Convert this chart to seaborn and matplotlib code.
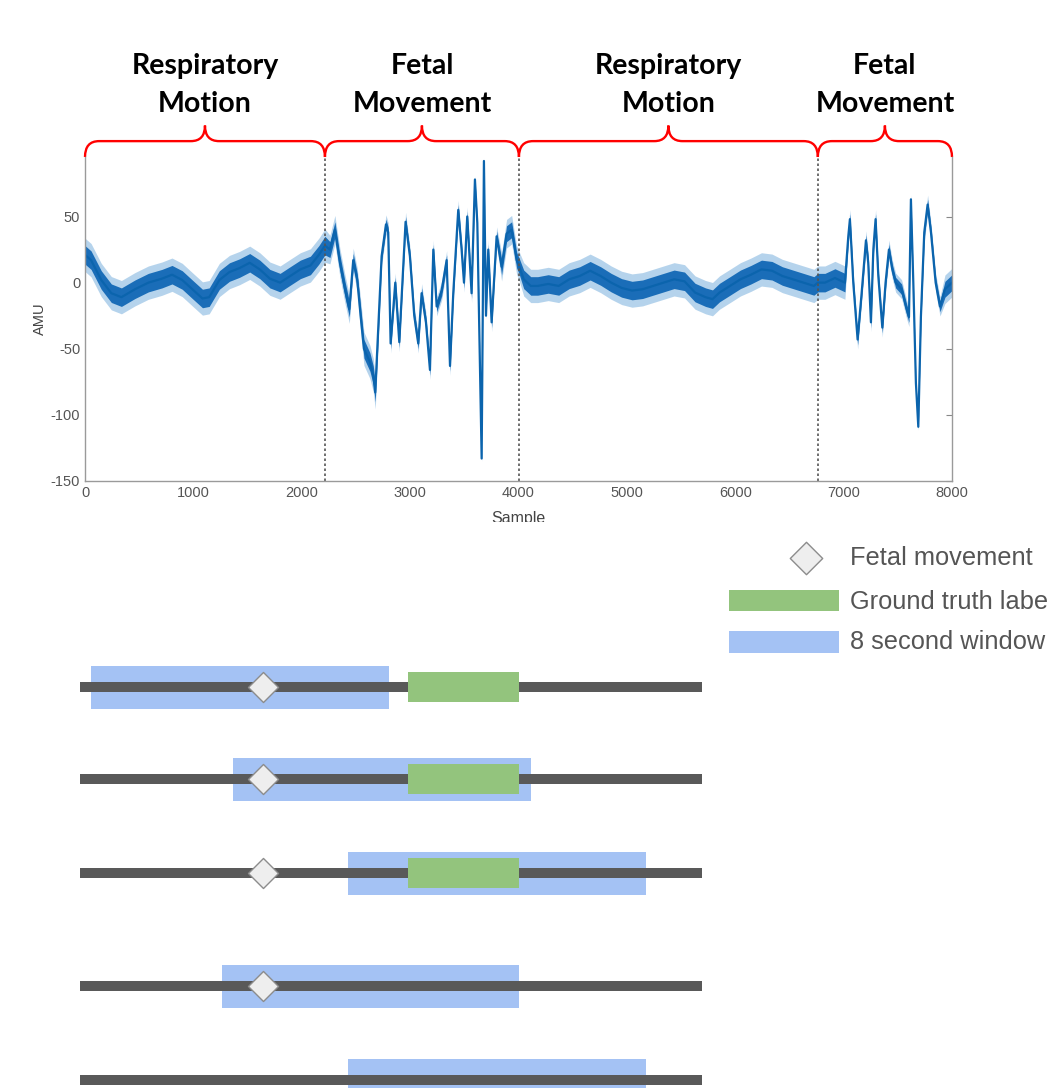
import matplotlib
matplotlib.use('Agg')
import matplotlib.pyplot as plt
import seaborn as sns
from matplotlib.path import Path
from matplotlib.patches import PathPatch, Rectangle
from matplotlib.transforms import blended_transform_factory

# ---- top panel: magnetometer trace ----
sample = [
    0, 56, 150, 243, 336, 461, 585, 710, 803, 897, 990, 1084, 1146, 1240, 1333,
    1426, 1520, 1613, 1706, 1800, 1893, 1987, 2080, 2158, 2214,
    2260, 2306, 2352, 2399, 2439, 2475, 2512, 2543, 2574, 2629,
    2660, 2678, 2697, 2737, 2777, 2798, 2820, 2863, 2900, 2958,
    2998, 3038, 3075, 3106, 3146, 3183, 3214, 3245, 3291, 3337,
    3368, 3398, 3444, 3475, 3497, 3527, 3567, 3598, 3620, 3660,
    3681, 3700, 3721, 3752, 3798, 3844, 3890, 3937, 3983, 4004,
    4048, 4113, 4177, 4274, 4371, 4468, 4565, 4661, 4758, 4855,
    4952, 5048, 5145, 5242, 5339, 5436, 5532, 5629, 5726, 5790,
    5855, 5952, 6048, 6145, 6242, 6339, 6435, 6532, 6629, 6726,
    6762, 6828, 6920, 7012, 7043, 7058, 7089, 7129, 7166, 7206,
    7227, 7252, 7274, 7295, 7320, 7357, 7387, 7418, 7449, 7480,
    7535, 7581, 7603, 7621, 7643, 7667, 7689, 7713, 7744, 7775,
    7806, 7849, 7889, 7935, 8000,
]
amu = [
    21, 17, 2, -8, -11, -5, 0, 3, 6, 2, -5, -12, -11, 2, 8,
    11, 15, 10, 3, 0, 5, 10, 13, 21, 28,
    25, 40, 15, -5, -20, 17, 2, -25, -50, -60,
    -70, -83, -50, 20, 44, 38, -46, 0, -45, 46,
    20, -25, -46, -8, -30, -66, 25, -18, -6, 17,
    -63, -8, 55, 25, 0, 50, -8, 78, 45, -133,
    92, -25, 25, -30, 35, 12, 37, 40, 17, 13,
    2.5, -2.5, -2.5, -1, -2.5, 2.5, 5, 9, 5, 0,
    -4, -6, -5, -2.5, 0, 2.5, 1, -7.5, -11, -12.5,
    -7.5, -2.5, 2.5, 6, 10, 9, 5, 2.5, 0, -2.5,
    0, 0, 3.5, 0, 35, 48, 0, -43, -8, 32,
    15, -30, 25, 48, 5, -34, 0, 25, 10, 0,
    -5, -20, -26, 63, 0, -76, -109, -26, 38, 59,
    38, 0, -18, -5, 0,
]
# half thickness of the noisy band around the trace
spread = ([7] * 25
          + [6] * 5 + [5] * 2 + [7] * 6 + [4] * 24 + [1.5] * 5 + [4] * 3 + [6] * 5
          + [7] * 30
          + [7] * 4 + [4] * 19 + [2] + [1.5] * 3 + [4] * 6 + [6] * 2)

segment_edges = [0, 2214, 4004, 6762, 8000]
segment_labels = ['Respiratory\nMotion', 'Fetal\nMovement',
                  'Respiratory\nMotion', 'Fetal\nMovement']

# ---- bottom panel: windowing sketch (seconds) ----
track_length = 16.7
window_length = 8
window_start = [0.3, 4.1, 7.2, 3.8, 7.2]
truth_start = 8.8
truth_length = 3.0
truth_rows = [0, 1, 2]
movement_time = 4.9
movement_rows = [0, 1, 2, 3]
legend_labels = ['Fetal movement', 'Ground truth label', '8 second window']

BLUE_WIN = '#a4c2f4'
GREEN = '#93c47d'
TRACK = '#595959'

W, H = 1048, 1088


def box(left, top, right, bottom):
    # figure pixel box -> add_axes rect
    return [left / W, 1 - bottom / H, (right - left) / W, (bottom - top) / H]


sns.set_style('white')
plt.rcParams['font.family'] = ['Liberation Sans', 'DejaVu Sans']
plt.rcParams['axes.unicode_minus'] = False

fig = plt.figure(figsize=(W / 100, H / 100), dpi=100)

# ---------------- signal ----------------
ax = fig.add_axes(box(85, 157, 952, 481))
lo = [a - s for a, s in zip(amu, spread)]
hi = [a + s for a, s in zip(amu, spread)]
lo2 = [a - 1.8 * s for a, s in zip(amu, spread)]
hi2 = [a + 1.8 * s for a, s in zip(amu, spread)]
ax.fill_between(sample, lo2, hi2, color='#5c9fd6', alpha=0.45, lw=0)
ax.fill_between(sample, lo, hi, color='#1a6db8', lw=0)
sns.lineplot(x=sample, y=amu, ax=ax, color='#0b64ad', lw=1.6, estimator=None)

for b in segment_edges[1:-1]:
    ax.axvline(b, color='#555555', ls=(0, (1.5, 1.5)), lw=1.2)

ax.set_xlim(0, 8000)
ax.set_ylim(-150, 95)
ax.set_xticks(range(0, 8001, 1000))
ax.set_yticks([-150, -100, -50, 0, 50])
ax.tick_params(direction='in', length=4, width=0.8, color='#888888',
               labelcolor='#555555', labelsize=10.5, right=True)
for side in ['left', 'bottom', 'right']:
    ax.spines[side].set_color('#9a9a9a')
    ax.spines[side].set_linewidth(1.0)
ax.spines['top'].set_visible(False)
ax.set_xlabel('Sample', fontsize=11.5, color='#444444', labelpad=8)
ax.set_ylabel('AMU', fontsize=10.5, color='#444444', labelpad=3)

# braces + section labels above the trace
btrans = blended_transform_factory(ax.transData, ax.transAxes)
ftrans = blended_transform_factory(ax.transData, fig.transFigure)
for (x0, x1), label in zip(zip(segment_edges[:-1], segment_edges[1:]), segment_labels):
    xm = (x0 + x1) / 2
    r = 130
    y0, y1, y2 = 1.0, 1.049, 1.097
    verts = [(x0, y0), (x0, y1), (x0 + r, y1), (xm - r, y1), (xm, y1), (xm, y2),
             (xm, y1), (xm + r, y1), (x1 - r, y1), (x1, y1), (x1, y0)]
    codes = [Path.MOVETO, Path.CURVE3, Path.CURVE3, Path.LINETO, Path.CURVE3,
             Path.CURVE3, Path.CURVE3, Path.CURVE3, Path.LINETO, Path.CURVE3, Path.CURVE3]
    ax.add_patch(PathPatch(Path(verts, codes), fill=False, edgecolor='#ff0000',
                           lw=1.7, transform=btrans, clip_on=False))
    for line, base in zip(label.split('\n'), [74, 112]):
        ax.text(xm, 1 - base / H, line, transform=ftrans, ha='center', va='baseline',
                fontsize=20.5, fontweight='bold', family=['Lato', 'DejaVu Sans'],
                color='black')

# ---------------- windows sketch ----------------
row_y = [687, 779, 873, 986, 1080]
axb = fig.add_axes(box(80.3, 522, 701.7, 1088))
axb.set_facecolor('white')
axb.set_xlim(0, track_length)
axb.set_ylim(H, 522)
axb.barh(row_y, window_length, left=window_start, height=43, color=BLUE_WIN,
         edgecolor='none', lw=0, zorder=1)
axb.hlines(row_y, 0, track_length, color=TRACK, lw=7.2, zorder=2, capstyle='butt')
axb.barh([row_y[i] for i in truth_rows], truth_length, left=truth_start, height=30,
         color=GREEN, edgecolor='none', lw=0, zorder=3)
axb.scatter([movement_time] * len(movement_rows), [row_y[i] for i in movement_rows],
            marker='D', s=234, color='#eeeeee', edgecolor='#8c8c8c', lw=1, zorder=4)
axb.set_xticks([])
axb.set_yticks([])
for s in axb.spines.values():
    s.set_visible(False)

# legend, drawn in figure pixels
axo = fig.add_axes([0, 0, 1, 1], zorder=5)
axo.set_xlim(0, W)
axo.set_ylim(H, 0)
axo.axis('off')
axo.scatter([806], [558], marker='D', s=272, color='#eeeeee', edgecolor='#8c8c8c', lw=1)
axo.add_patch(Rectangle((729, 590), 110, 21, color=GREEN, lw=0))
axo.add_patch(Rectangle((729, 631), 110, 22, color=BLUE_WIN, lw=0))
for label, base in zip(legend_labels, [565, 609, 649]):
    axo.text(850, base, label, fontsize=18.3, color='#555555', va='baseline', ha='left')

fig.savefig('out.png', dpi=100)
